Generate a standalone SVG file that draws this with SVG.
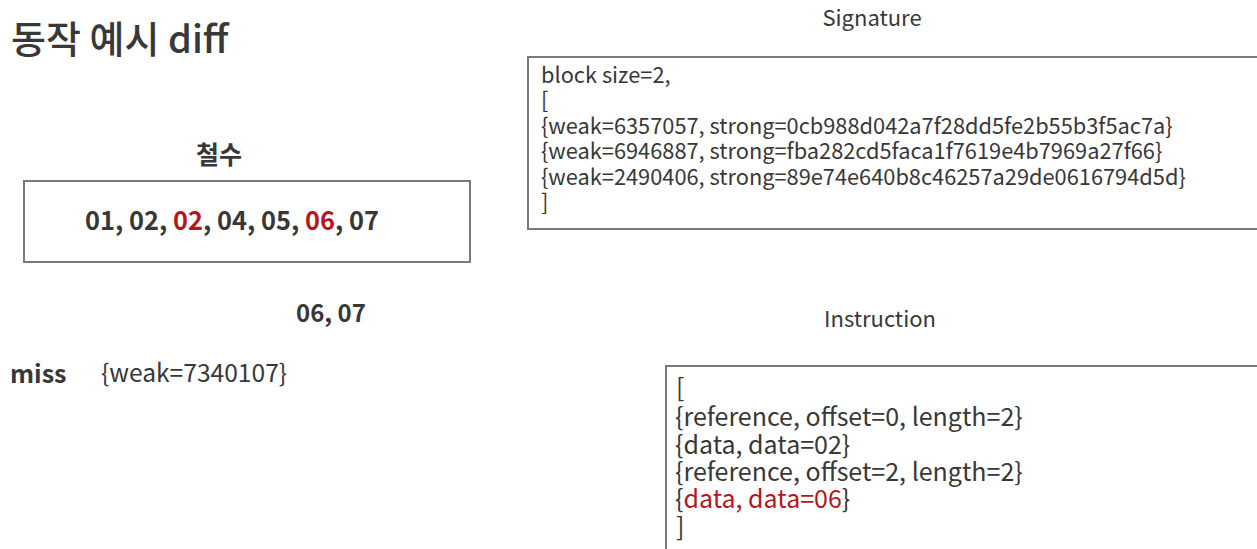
<svg xmlns="http://www.w3.org/2000/svg" width="1257" height="549" viewBox="0 0 1257 549">
<style>
text{font-family:"Noto Sans CJK KR","Noto Sans",sans-serif;fill:#383838}
.b{font-weight:bold}
.r{fill:#b3191c}
.box{fill:#fff;stroke:#7a7a7a;stroke-width:2}
.sig{font-size:21.8px}
.ins{font-size:25px}
.hd{font-size:22px;text-anchor:middle}
</style>
<rect width="1257" height="549" fill="#fff"/>
<text x="11" y="53" style="font-size:38px;font-weight:500">동작 예시 diff</text>
<g id="chulsu">
<text x="219" y="164" class="b" style="font-size:25px;text-anchor:middle">철수</text>
<rect class="box" x="24" y="181" width="446" height="81"/>
<text x="232" y="230" class="b" style="font-size:25.4px;text-anchor:middle">01, 02, <tspan class="r">02</tspan>, 04, 05, <tspan class="r">06</tspan>, 07</text>
</g>
<g id="rest"><text x="296" y="322" class="b" style="font-size:24px">06, 07</text></g>
<g id="miss">
<text x="10" y="383" class="b" style="font-size:25px">miss</text>
<text x="101" y="382" style="font-size:24.6px">{weak=7340107}</text>
</g>
<g id="signature">
<text x="872" y="26" class="hd">Signature</text>
<rect class="box" x="528" y="57" width="760" height="172"/>
<text class="sig" x="541" y="83">block size=2,</text>
<text class="sig" x="541" y="108">[</text>
<text class="sig" x="541" y="134">{weak=6357057, strong=0cb988d042a7f28dd5fe2b55b3f5ac7a}</text>
<text class="sig" x="541" y="159">{weak=6946887, strong=fba282cd5faca1f7619e4b7969a27f66}</text>
<text class="sig" x="541" y="185">{weak=2490406, strong=89e74e640b8c46257a29de0616794d5d}</text>
<text class="sig" x="541" y="210">]</text>
</g>
<g id="instruction">
<text x="880" y="327" class="hd">Instruction</text>
<rect class="box" x="666" y="366" width="620" height="220"/>
<text class="ins" x="676" y="397">[</text>
<text class="ins" x="675" y="426">{reference, offset=0, length=2}</text>
<text class="ins" x="675" y="454">{data, data=02}</text>
<text class="ins" x="675" y="481">{reference, offset=2, length=2}</text>
<text class="ins" x="675" y="508">{<tspan class="r">data, data=06</tspan>}</text>
<text class="ins" x="676" y="536">]</text>
</g>
<g id="connectors"/>
</svg>
